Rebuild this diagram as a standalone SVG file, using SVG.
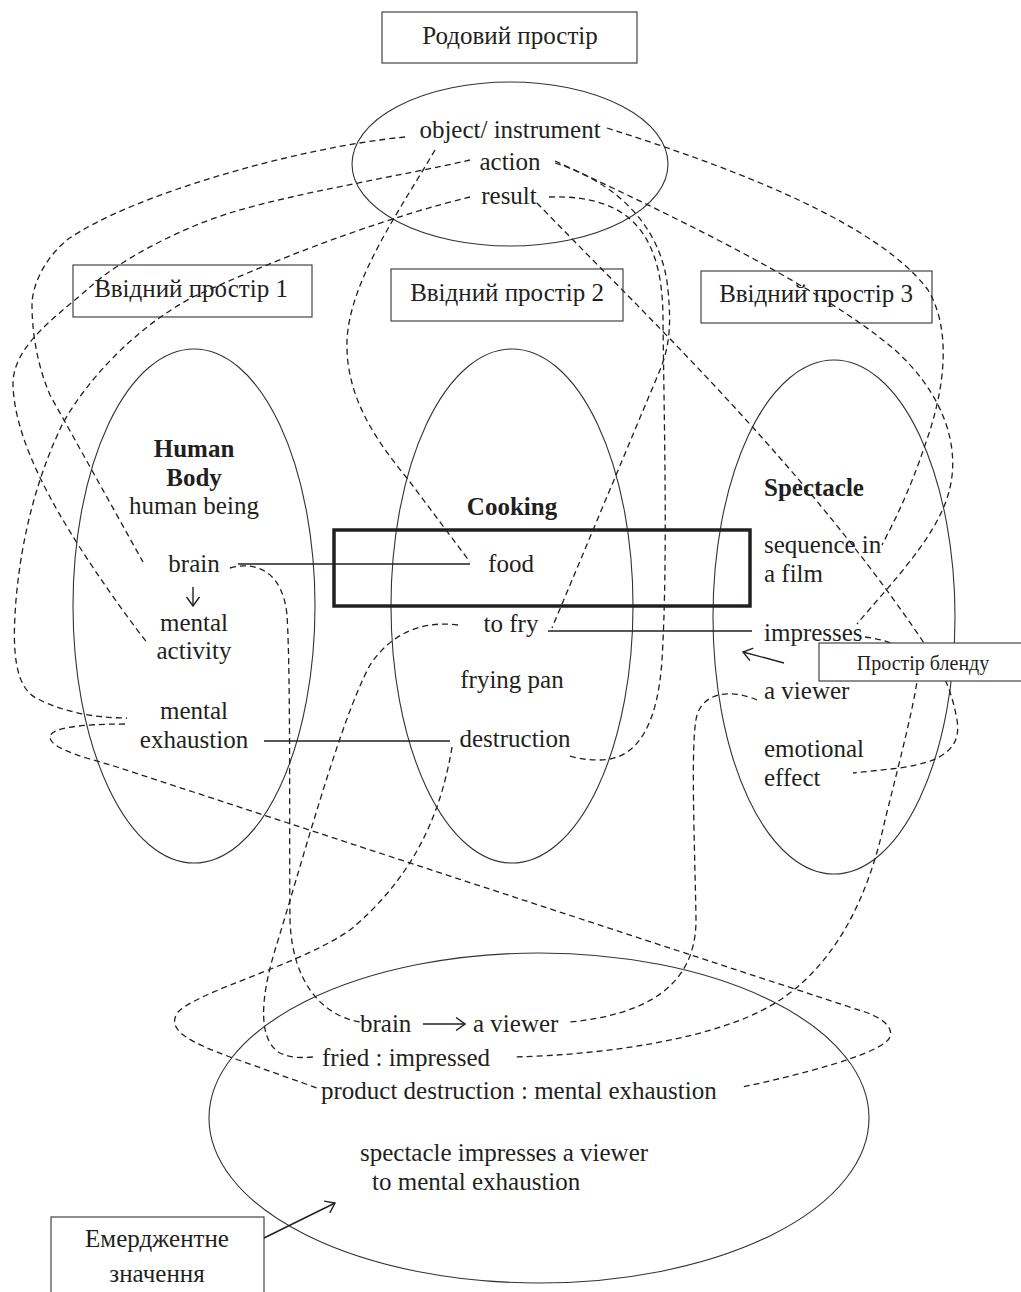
<svg xmlns="http://www.w3.org/2000/svg" width="1021" height="1292" viewBox="0 0 1021 1292">
<style>
  text { font-family: "Liberation Serif", "Times New Roman", serif; font-size: 25px; fill: #231f20; }
  .b { font-weight: bold; }
  .m { text-anchor: middle; }
  .sm { font-size: 20px; }
  .frame { fill: none; stroke: #444; stroke-width: 1.2; }
  .oval { fill: none; stroke: #333; stroke-width: 1.1; }
  .dash { fill: none; stroke: #231f20; stroke-width: 1.3; stroke-dasharray: 6 4; }
  .solid { fill: none; stroke: #231f20; stroke-width: 1.3; }
  .arrow { fill: none; stroke: #231f20; stroke-width: 1.4; marker-end: url(#open); }
</style>
<defs>
  <marker id="open" viewBox="0 0 12 14" refX="11" refY="7" markerWidth="12" markerHeight="14" markerUnits="userSpaceOnUse" orient="auto">
    <path d="M2,0.5 L11,7 L2,13.5" fill="none" stroke="#231f20" stroke-width="1.4"/>
  </marker>
</defs>
<rect width="1021" height="1292" fill="#fff"/>

<g id="generic-label">
  <rect class="frame" x="382" y="12" width="255" height="51"/>
  <text class="m" x="510" y="44">Родовий простір</text>
</g>
<g id="generic-space">
  <ellipse class="oval" cx="510" cy="164" rx="158" ry="82"/>
  <text class="m" x="510" y="138">object/ instrument</text>
  <text class="m" x="510" y="170">action</text>
  <text class="m" x="509" y="204">result</text>
</g>
<g id="input1-label">
  <rect class="frame" x="73" y="265" width="239" height="52"/>
  <text class="m" x="191" y="297">Ввідний простір 1</text>
</g>
<g id="input2-label">
  <rect class="frame" x="391" y="269" width="232" height="52"/>
  <text class="m" x="507" y="301">Ввідний простір 2</text>
</g>
<g id="input3-label">
  <rect class="frame" x="701" y="271" width="231" height="52"/>
  <text class="m" x="816" y="302">Ввідний простір 3</text>
</g>
<g id="input1">
  <ellipse class="oval" cx="194" cy="606" rx="121" ry="257"/>
  <text class="m b" x="194" y="457">Human</text>
  <text class="m b" x="194" y="486">Body</text>
  <text class="m" x="194" y="514">human being</text>
  <text class="m" x="194" y="572">brain</text>
  <path class="arrow" d="M193,587 L193,606"/>
  <text class="m" x="194" y="631">mental</text>
  <text class="m" x="194" y="659">activity</text>
  <text class="m" x="194" y="719">mental</text>
  <text class="m" x="194" y="748">exhaustion</text>
</g>
<g id="input2">
  <ellipse class="oval" cx="512" cy="606" rx="121" ry="257"/>
  <text class="m b" x="512" y="515">Cooking</text>
  <text class="m" x="511" y="572">food</text>
  <text class="m" x="511" y="632">to fry</text>
  <text class="m" x="512" y="688">frying pan</text>
  <text class="m" x="515" y="747">destruction</text>
</g>
<g id="input3">
  <ellipse class="oval" cx="834" cy="617" rx="121" ry="257"/>
  <text class="b" x="764" y="496">Spectacle</text>
  <text x="764" y="553">sequence in</text>
  <text x="764" y="582">a film</text>
  <text x="764" y="641">impresses</text>
  <text x="764" y="699">a viewer</text>
  <text x="764" y="757">emotional</text>
  <text x="764" y="786">effect</text>
</g>
<g id="cross-space-frame">
  <rect x="334" y="530" width="416" height="76" fill="none" stroke="#231f20" stroke-width="3.5"/>
</g>
<g id="blend">
  <ellipse class="oval" cx="539" cy="1118" rx="330" ry="165"/>
  <text x="360" y="1032">brain</text>
  <path class="arrow" d="M423,1024 L465,1024"/>
  <text x="473" y="1032">a viewer</text>
  <text x="322" y="1066">fried : impressed</text>
  <text x="321" y="1099">product destruction : mental exhaustion</text>
  <text x="360" y="1161">spectacle impresses a viewer</text>
  <text x="372" y="1190">to mental exhaustion</text>
</g>
<g id="emergent-label">
  <rect class="frame" x="51" y="1217" width="213" height="90"/>
  <text class="m" x="157" y="1247">Емерджентне</text>
  <text class="m" x="157" y="1282">значення</text>
  <path class="arrow" d="M264,1238 L335,1203"/>
</g>

<g id="connectors">
  <path class="solid" d="M238,564 L470,564"/>
  <path class="solid" d="M548,631 L752,631"/>
  <path class="solid" d="M264,741 L450,741"/>
  <path class="dash" d="M405,137 C300,147 130,195 67,240 C45,258 32,285 32,305 C32,325 35,360 50,395 L143,562"/>
  <path class="dash" d="M470,160 C400,176 300,192 233,212 C180,228 120,260 90,287 C60,314 12,345 13,385 C14,420 30,460 50,497 C70,535 110,595 148,644"/>
  <path class="dash" d="M470,197 C400,214 300,248 193,297 C140,325 90,375 63,423 C40,470 22,530 16,600 C12,650 14,690 40,700 C60,710 90,718 127,718"/>
  <path class="dash" d="M435,150 C400,210 350,280 347,340 C345,400 380,445 410,482 L470,562"/>
  <path class="dash" d="M607,128 C740,170 880,225 928,290 C952,330 945,390 925,445 C910,490 895,520 882,545"/>
  <path class="dash" d="M555,161 C650,205 820,285 895,350 C945,395 962,450 948,495 C935,540 885,590 857,624"/>
  <path class="dash" d="M555,163 C615,182 662,225 668,290 C672,330 668,350 660,370 L552,628"/>
  <path class="dash" d="M549,197 C635,194 663,240 663,320 C664,420 668,560 662,660 C658,720 640,760 600,760 C585,760 575,758 567,755"/>
  <path class="dash" d="M537,203 C640,310 800,460 922,640 C935,660 950,680 957,720 C962,750 940,762 900,768 L853,773"/>
  <path class="dash" d="M865,637 C890,640 915,650 918,670 C918,690 900,760 885,820 C870,890 840,960 780,1000 C720,1040 600,1055 513,1057"/>
  <path class="dash" d="M757,700 C735,690 705,690 697,715 C690,740 695,850 696,920 C696,990 640,1015 570,1022"/>
  <path class="dash" d="M230,568 C260,560 283,575 287,615 C291,680 289,850 290,920 C292,980 320,1015 360,1022"/>
  <path class="dash" d="M458,625 C420,620 390,635 370,665 C340,720 300,870 275,950 C260,1000 258,1040 280,1053 C290,1058 300,1058 313,1057"/>
  <path class="dash" d="M452,747 C440,820 410,880 350,930 C300,965 200,990 178,1012 C165,1030 190,1042 230,1057 L317,1088"/>
  <path class="dash" d="M125,724 C80,724 50,728 50,737 C50,750 95,760 117,767 L865,1012 C885,1019 896,1030 888,1040 C875,1055 800,1075 742,1087"/>
</g>

<g id="blend-label">
  <rect x="819" y="643" width="215" height="38" fill="#fff" stroke="#444" stroke-width="1.2"/>
  <text class="m sm" x="923" y="670">Простір бленду</text>
  <path class="arrow" d="M784,663 L743,652"/>
</g>
</svg>
